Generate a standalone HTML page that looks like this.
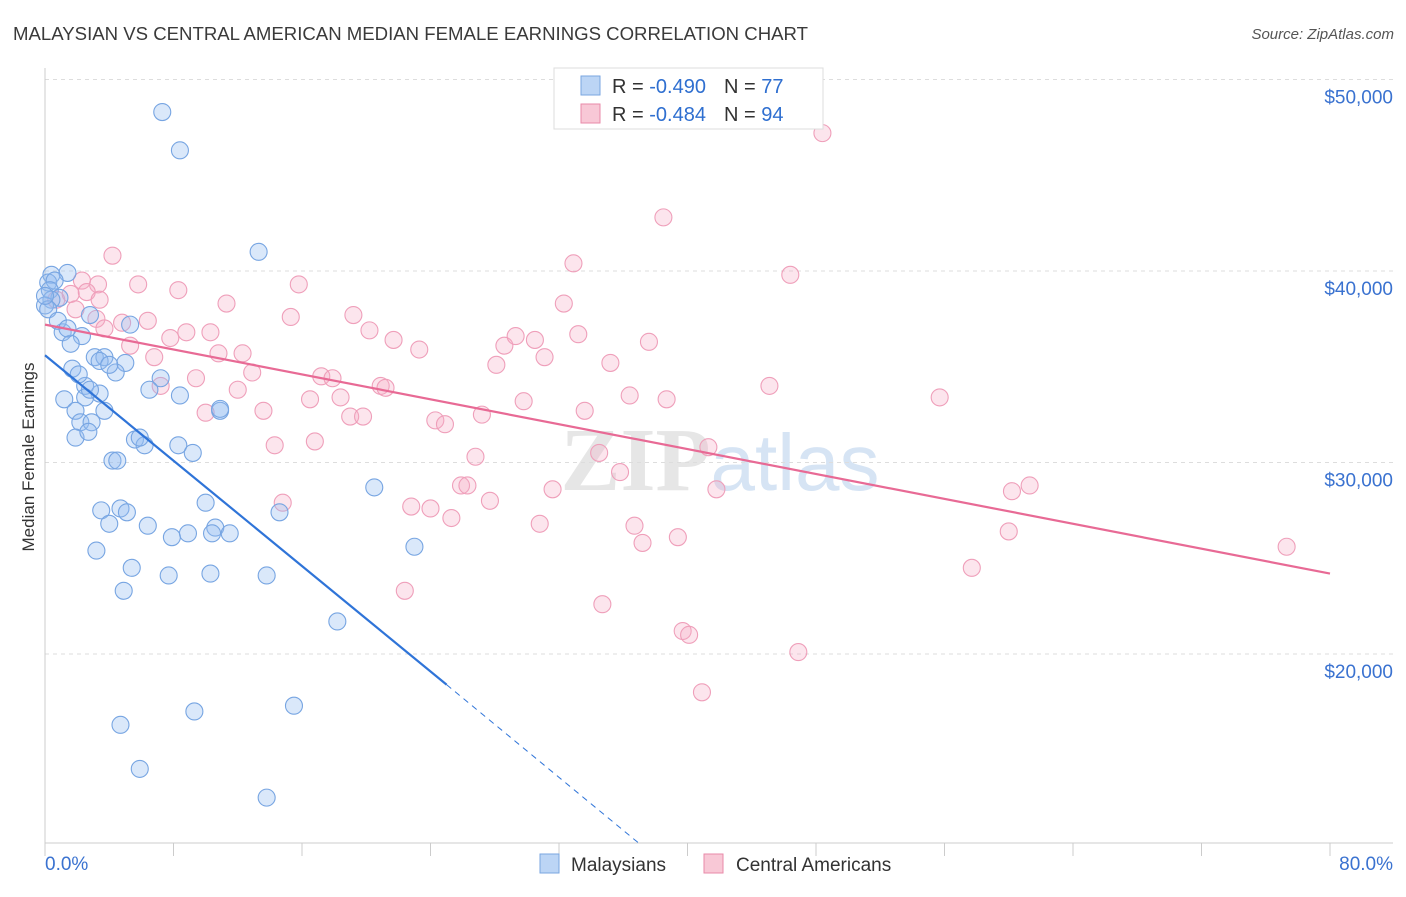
<!DOCTYPE html>
<html><head><meta charset="utf-8"><style>
body{margin:0;background:#fff;font-family:"Liberation Sans",sans-serif;}
svg text{font-family:"Liberation Sans",sans-serif;}
</style></head><body>
<svg id="chart" width="1406" height="892" xmlns="http://www.w3.org/2000/svg">
<text x="13" y="40" font-size="18" fill="#3a3a3a" textLength="795" lengthAdjust="spacingAndGlyphs">MALAYSIAN VS CENTRAL AMERICAN MEDIAN FEMALE EARNINGS CORRELATION CHART</text>
<text x="1394" y="39" font-size="15" fill="#555" text-anchor="end" font-style="italic">Source: ZipAtlas.com</text>
<text x="720" y="490" font-size="90" text-anchor="middle" fill="#e6e6e6" font-family="Liberation Serif"><tspan font-weight="bold" font-family="Liberation Serif">ZIP</tspan><tspan fill="#d6e4f4" font-family="Liberation Sans" font-size="80">atlas</tspan></text>
<g id="grid"></g>
<g id="axes"></g>
<g id="pts"></g>
<g id="trend"></g>
<text transform="translate(34,457) rotate(-90)" font-size="17" fill="#333" text-anchor="middle">Median Female Earnings</text>
<g>
<rect x="554" y="68" width="269" height="61" fill="#fff" stroke="#ddd"/>
<rect x="581" y="76" width="19" height="19" fill="#bcd5f5" stroke="#7aa6e0"/>
<rect x="581" y="104" width="19" height="19" fill="#f8c8d6" stroke="#e88aa8"/>
<text x="612" y="93" font-size="20" fill="#333">R = <tspan fill="#2f6fd0">-0.490</tspan><tspan dx="18">N = </tspan><tspan fill="#2f6fd0">77</tspan></text>
<text x="612" y="121" font-size="20" fill="#333">R = <tspan fill="#2f6fd0">-0.484</tspan><tspan dx="18">N = </tspan><tspan fill="#2f6fd0">94</tspan></text>
</g>
<g>
<rect x="540" y="854" width="19" height="19" fill="#bcd5f5" stroke="#7aa6e0"/>
<text x="571" y="871" font-size="19" fill="#333">Malaysians</text>
<rect x="704" y="854" width="19" height="19" fill="#f8c8d6" stroke="#e88aa8"/>
<text x="736" y="871" font-size="19" fill="#333">Central Americans</text>
</g>
</svg>
<script>
const yTicks=[20000,30000,40000,50000];
const yTickLabels=["$20,000","$30,000","$40,000","$50,000"];
const xTicks=[0,8,16,24,32,40,48,56,64,72,80];
const xEndLabels=["0.0%","80.0%"];
const blueX=[7.3,8.4,13.3,0.4,1.4,0.2,0.6,0.3,0.9,0.4,0.0,2.8,5.3,1.1,2.3,1.6,3.1,3.7,5.0,3.4,1.7,4.4,7.2,2.5,3.4,6.5,8.4,1.2,2.5,1.9,3.7,10.9,2.2,2.9,1.9,2.7,5.6,6.2,8.3,9.2,4.2,4.5,20.5,10.0,3.5,4.7,5.1,14.6,4.0,6.4,10.6,7.9,8.9,10.4,11.5,23.0,3.2,5.4,7.7,10.3,13.8,4.9,18.2,9.3,15.5,4.7,5.9,13.8,0.2,0.8,2.8,5.9,10.9,0.0,1.4,4.0,2.1];
const blueY=[48300,46300,41000,39800,39900,39400,39500,39000,38600,38500,38200,37700,37200,36800,36600,36200,35500,35500,35200,35300,34900,34700,34400,34000,33600,33800,33500,33300,33400,32700,32700,32700,32100,32100,31300,31600,31200,30900,30900,30500,30100,30100,28700,27900,27500,27600,27400,27400,26800,26700,26600,26100,26300,26300,26300,25600,25400,24500,24100,24200,24100,23300,21700,17000,17300,16300,14000,12500,38000,37400,33800,31300,32800,38700,37000,35100,34600];
const pinkX=[48.4,38.5,4.2,32.9,46.4,2.3,3.3,5.8,8.3,15.8,1.6,2.6,3.4,32.3,11.3,15.3,19.2,3.2,4.8,6.4,3.7,8.8,10.3,20.2,7.8,21.7,33.2,37.6,28.6,30.5,29.3,5.3,12.3,10.8,23.3,31.1,6.8,28.1,35.2,12.9,9.4,17.2,17.9,7.2,12.0,20.9,21.2,18.4,16.5,29.8,36.4,38.7,45.1,55.7,10.0,13.6,19.0,19.8,27.2,33.6,24.3,24.9,16.8,14.3,34.5,41.3,26.8,35.8,25.9,26.3,31.6,27.7,41.8,60.2,61.3,14.8,22.8,24.0,25.3,30.8,36.7,39.4,37.2,60.0,77.3,57.7,22.4,34.7,39.7,40.1,46.9,40.9,0.7,1.9];
const pinkY=[47200,42800,40800,40400,39800,39500,39300,39300,39000,39300,38800,38900,38500,38300,38300,37600,37700,37500,37300,37400,37000,36800,36800,36900,36500,36400,36700,36300,36100,36400,36600,36100,35700,35700,35900,35500,35500,35100,35200,34700,34400,34500,34400,34000,33800,34000,33900,33400,33300,33200,33500,33300,34000,33400,32600,32700,32400,32400,32500,32700,32200,32000,31100,30900,30500,30800,30300,29500,28800,28800,28600,28000,28600,28500,28800,27900,27700,27600,27100,26800,26700,26100,25800,26400,25600,24500,23300,22600,21200,21000,20100,18000,38500,38000];
const blueTrend=[0,35600,25,18400,37,10100];
const pinkTrend=[0,37200,80,24200];
const NS="http://www.w3.org/2000/svg";
const xs=v=>45+v/80*1285;
const ys=v=>654-(v-20000)*0.01915;
function mk(t,a,p){const e=document.createElementNS(NS,t);for(const k in a)e.setAttribute(k,a[k]);p.appendChild(e);return e;}
const grid=document.getElementById('grid'),axes=document.getElementById('axes');
yTicks.forEach((v,i)=>{
 const l=mk('line',{x1:45,x2:1393,y1:ys(v),y2:ys(v),stroke:'#ddd','stroke-dasharray':'4,4'},grid);
 
 
 const t=mk('text',{x:1393,y:ys(v)+24,'font-size':19,fill:'#3a72d0','text-anchor':'end'},axes);
 t.textContent=yTickLabels[i];
 
 
});
mk('line',{x1:45,x2:45,y1:68,y2:843,stroke:'#ccc'},axes);
mk('line',{x1:45,x2:1393,y1:843,y2:843,stroke:'#ccc'},axes);
xTicks.forEach(v=>{const l=mk('line',{x1:xs(v),x2:xs(v),y1:843,y2:856,stroke:'#ccc'},axes);
 
 });
[[0,'start',45],[80,'end',1393]].forEach((d,i)=>{const t=mk('text',{x:d[2],y:870,'font-size':19,fill:'#3a72d0','text-anchor':d[1]},axes);t.textContent=xEndLabels[i];
 
 });
const pts=document.getElementById('pts');
pinkX.forEach((x,i)=>{const c=mk('circle',{cx:xs(x),cy:ys(pinkY[i]),r:8.5,fill:'rgba(244,170,195,0.3)',stroke:'#ef9fba','stroke-width':1.1},pts);
 
 });
blueX.forEach((x,i)=>{const c=mk('circle',{cx:xs(x),cy:ys(blueY[i]),r:8.5,fill:'rgba(150,190,240,0.35)',stroke:'#77a5e2','stroke-width':1.1},pts);
 
 });
const tr=document.getElementById('trend');
let a=mk('line',{x1:xs(blueTrend[0]),y1:ys(blueTrend[1]),x2:xs(blueTrend[2]),y2:ys(blueTrend[3]),stroke:'#2f74d8','stroke-width':2.2},tr);


a=mk('line',{x1:xs(blueTrend[2]),y1:ys(blueTrend[3]),x2:xs(blueTrend[4]),y2:ys(blueTrend[5]),stroke:'#2f74d8','stroke-width':1,'stroke-dasharray':'6,5'},tr);


a=mk('line',{x1:xs(pinkTrend[0]),y1:ys(pinkTrend[1]),x2:xs(pinkTrend[2]),y2:ys(pinkTrend[3]),stroke:'#e86a95','stroke-width':2.2},tr);


</script>
</body></html>
